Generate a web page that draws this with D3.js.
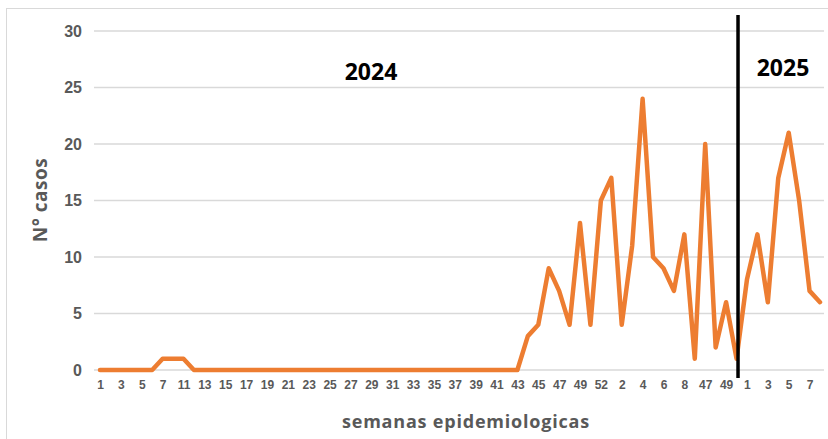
<!DOCTYPE html>
<html>
<head>
<meta charset="utf-8">
<style>
  body { margin: 0; background: #fff; }
  svg { display: block; font-family: "Open Sans", "Noto Sans", sans-serif; }
</style>
</head>
<body>
<svg width="828" height="439"></svg>
<script src="https://d3js.org/d3.v7.min.js"></script>
<script>
// week labels as printed under the axis (every other one shown)
var weeks = ["1","2","3","4","5","6","7","9",
  "11","12","13","14","15","16","17","18","19","20","21","22","23","24","25","26","27",
  "28","29","30","31","32","33","34","35","36","37","38","39","40","41","42","43",
  "44","45","46","47","48","49","50","52",
  "1","2","3","4","5","6","7","8","9",
  "47","48","49","50",
  "1","2","3","4","5","6","7","8"];

var casos = [0,0,0,0,0,0,1,1,
  1,0,0,0,0,0,0,0,0,0,0,0,0,0,0,0,0,
  0,0,0,0,0,0,0,0,0,0,0,0,0,0,0,0,
  3,4,9,7,4,13,4,15,
  17,4,11,24,10,9,7,12,1,
  20,2,6,1,
  8,12,6,17,21,15,7,6];

var yTicks = [0, 5, 10, 15, 20, 25, 30];
var yearLabels = ["2024", "2025"];
var splitIndex = 61; // where the year divider is drawn

var svg = d3.select("svg"),
    margin = {top: 31, right: 8, bottom: 69, left: 100},
    width = +svg.attr("width") - margin.left - margin.right,
    height = +svg.attr("height") - margin.top - margin.bottom;

// light frame around the chart
svg.append("rect")
  .attr("x", 6.5).attr("y", 8.5)
  .attr("width", 840).attr("height", 460)
  .attr("fill", "none").attr("stroke", "#d9d9d9");

var g = svg.append("g").attr("transform", "translate(" + margin.left + "," + margin.top + ")");

var idx = d3.range(weeks.length);

var x = d3.scalePoint()
  .domain(idx)
  .range([0, 720]);

var y = d3.scaleLinear()
  .domain([0, 30])
  .range([height, 0]);

// grid
g.append("g")
  .selectAll("line")
  .data(yTicks)
  .enter().append("line")
  .attr("x1", -6).attr("x2", 724)
  .attr("y1", function(d) { return y(d); })
  .attr("y2", function(d) { return y(d); })
  .attr("stroke", "#d9d9d9")
  .attr("stroke-width", 1.5);

// y axis
var yAxis = g.append("g")
  .call(d3.axisLeft(y).tickValues(yTicks).tickSize(0).tickPadding(18));
yAxis.select(".domain").remove();
yAxis.selectAll("text")
  .attr("fill", "#595959")
  .style("font-size", "16px")
  .style("font-weight", "bold");

// x axis
var xAxis = g.append("g")
  .attr("transform", "translate(0," + height + ")")
  .call(d3.axisBottom(x)
    .tickValues(idx.filter(function(i) { return i % 2 === 0; }))
    .tickFormat(function(i) { return weeks[i]; })
    .tickSize(0).tickPadding(10));
xAxis.select(".domain").remove();
xAxis.selectAll("text")
  .attr("fill", "#595959")
  .style("font-size", "12px")
  .style("font-weight", "bold");

// line
var line = d3.line()
  .x(function(d, i) { return x(i); })
  .y(function(d) { return y(d); });

g.append("path")
  .datum(casos)
  .attr("fill", "none")
  .attr("stroke", "#ed7d31")
  .attr("stroke-width", 4.5)
  .attr("stroke-linejoin", "round")
  .attr("stroke-linecap", "round")
  .attr("d", line);

// year divider
var sx = x(splitIndex) + 1.5;
g.append("line")
  .attr("x1", sx).attr("x2", sx)
  .attr("y1", -16).attr("y2", height + 8)
  .attr("stroke", "#000")
  .attr("stroke-width", 3.5);

g.append("text")
  .attr("x", 271).attr("y", 49)
  .attr("text-anchor", "middle")
  .style("font-size", "23px").style("font-weight", "bold")
  .attr("fill", "#000")
  .text(yearLabels[0]);

g.append("text")
  .attr("x", 683).attr("y", 45)
  .attr("text-anchor", "middle")
  .style("font-size", "23px").style("font-weight", "bold")
  .attr("fill", "#000")
  .text(yearLabels[1]);

// axis titles
svg.append("text")
  .attr("transform", "translate(47,200) rotate(-90)")
  .attr("text-anchor", "middle")
  .attr("fill", "#595959")
  .style("font-size", "19px")
  .style("font-weight", "bold")
  .style("letter-spacing", "0.5px")
  .text("N° casos");

svg.append("text")
  .attr("x", 466).attr("y", 428)
  .attr("text-anchor", "middle")
  .attr("fill", "#595959")
  .style("font-size", "18px")
  .style("font-weight", "bold")
  .style("letter-spacing", "0.8px")
  .text("semanas epidemiologicas");
</script>
</body>
</html>
